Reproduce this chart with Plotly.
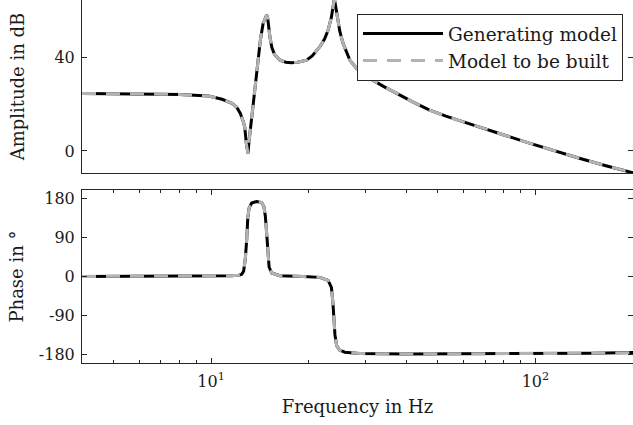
import math
import plotly.graph_objects as go

# ---------------- data ----------------
freq_amp = [4.0, 5.0, 6.0, 7.0, 8.0, 9.0, 9.84, 10.81, 11.6, 12.0, 12.31, 12.55, 12.70,
            12.85, 12.95, 13.0, 13.07, 13.21, 13.5, 13.82, 13.98, 14.2, 14.48, 14.7,
            14.84, 14.95, 15.05, 15.19, 15.4, 15.7, 16.3, 17.0, 17.7, 18.5, 19.7, 20.5,
            21.65, 22.4, 22.96, 23.5, 23.78, 24.0, 24.2, 24.5, 24.94, 25.53, 26.78,
            28.08, 30.85, 34.0, 37.3, 42.0, 47.2, 53.0, 59.7, 67.3, 80.0, 95.8, 115.0,
            136.6, 165.0, 194.6, 200.0]
amp_generating_db = [24.5, 24.5, 24.4, 24.2, 24.0, 23.7, 23.4, 22.0, 20.3, 18.6, 16.0, 12.8,
                     10.3, 3.0, 0.0, -1.0, 3.0, 8.9, 21.7, 34.5, 40.0, 47.5, 54.5, 57.0,
                     57.9, 56.5, 53.0, 48.5, 44.0, 41.0, 38.7, 37.8, 37.6, 37.8, 38.7, 40.5,
                     44.4, 47.8, 51.5, 57.0, 61.4, 64.8, 62.0, 57.5, 51.0, 45.8, 38.7,
                     35.2, 30.9, 27.5, 24.5, 20.8, 17.4, 14.8, 12.5, 10.3, 6.8, 3.3, -0.1,
                     -3.1, -6.3, -8.8, -9.3]
amp_model_db = list(amp_generating_db)

freq_phase = [4.0, 8.0, 10.0, 11.5, 12.2, 12.43, 12.6, 12.75, 12.88, 12.98, 13.1, 13.34,
              13.82, 14.32, 14.55, 14.7, 14.84, 14.96, 15.1, 15.38, 16.31, 19.23, 21.65,
              22.96, 23.5, 23.75, 23.9, 24.1, 24.4, 24.9, 25.84, 28.74, 40.0, 67.0,
              100.0, 150.0, 200.0]
phase_generating_deg = [0, 0.5, 1, 2, 3, 5, 12, 40, 85, 135, 158, 170,
                        173.5, 171, 162, 140, 100, 55, 22, 8, 2, 0, -2,
                        -9, -25, -60, -95, -135, -160, -170, -175, -178, -179, -179,
                        -178.5, -177.5, -176]
phase_model_deg = list(phase_generating_deg)

x_ticks = [10, 100]
x_ticktext = ["10<sup>1</sup>", "10<sup>2</sup>"]
x_minor = [5, 6, 7, 8, 9, 20, 30, 40, 50, 60, 70, 80, 90, 200]
amp_ticks = [0, 40]
phase_ticks = [-180, -90, 0, 90, 180]
phase_ticktext = ["-180", "-90", "0", "90", "180"]

series_names = ["Generating model", "Model to be built"]

# ---------------- figure ----------------
FONT = "DejaVu Serif"
AX = "#262626"
TXT = "#1a1a1a"
BLACK = "#000000"
GRAY = "#b3b3b3"
FS = 18      # axis titles
FL = 18.5    # legend
FT = 16      # tick labels

fig = go.Figure()
fig.add_trace(go.Scatter(x=freq_amp, y=amp_generating_db, name=series_names[0], mode="lines",
                         line=dict(color=BLACK, width=3), xaxis="x", yaxis="y"))
fig.add_trace(go.Scatter(x=freq_amp, y=amp_model_db, name=series_names[1], mode="lines",
                         line=dict(color=GRAY, width=3, dash="14px,10px"), xaxis="x", yaxis="y"))
fig.add_trace(go.Scatter(x=freq_phase, y=phase_generating_deg, name=series_names[0], mode="lines",
                         line=dict(color=BLACK, width=3), xaxis="x2", yaxis="y2", showlegend=False))
fig.add_trace(go.Scatter(x=freq_phase, y=phase_model_deg, name=series_names[1], mode="lines",
                         line=dict(color=GRAY, width=3, dash="14px,10px"), xaxis="x2", yaxis="y2",
                         showlegend=False))

H_PLOT = 363.0
top_dom = [(H_PLOT - 173) / H_PLOT, 1.0]
bot_dom = [0.0, 173 / H_PLOT]
xr = [math.log10(4), math.log10(200)]

common = dict(showline=True, linecolor=AX, linewidth=1, showgrid=False, zeroline=False,
              tickcolor=AX, tickfont=dict(family=FONT, size=FT, color=TXT))

fig.update_layout(
    width=633, height=425,
    margin=dict(l=82, r=0, t=0, b=62),
    paper_bgcolor="white", plot_bgcolor="white",
    font=dict(family=FONT, size=FS, color=TXT),
    xaxis=dict(domain=[0, 1], anchor="y", type="log", range=xr, showticklabels=False,
               ticks="", mirror=True, **common),
    yaxis=dict(domain=top_dom, anchor="x", range=[-9.4, 64.3], tickvals=amp_ticks,
               ticks="inside", ticklen=5, mirror="ticks", automargin=False, ticklabelstandoff=3,
               title=dict(text="Amplitude in dB", standoff=25, font=dict(family=FONT, size=FS, color=TXT)),
               **common),
    xaxis2=dict(domain=[0, 1], anchor="y2", type="log", range=xr, tickvals=x_ticks,
                ticktext=x_ticktext, ticks="inside", ticklen=5, mirror="ticks", automargin=False,
                ticklabelstandoff=4,
                minor=dict(tickvals=x_minor, ticks="inside", ticklen=3, tickcolor=AX),
                title=dict(text="Frequency in Hz", standoff=10, font=dict(family=FONT, size=FS, color=TXT)),
                **common),
    yaxis2=dict(domain=bot_dom, anchor="x2", range=[-200, 200], tickvals=phase_ticks,
                ticktext=phase_ticktext, ticks="inside", ticklen=5, mirror="ticks", automargin=False,
                ticklabelstandoff=3,
                title=dict(text="Phase in °", standoff=10, font=dict(family=FONT, size=FS, color=TXT)),
                **common),
    legend=dict(x=(357 - 82) / 551, y=1 - 14 / H_PLOT, xanchor="left", yanchor="top",
                bgcolor="white", bordercolor=AX, borderwidth=1, itemwidth=80,
                font=dict(family=FONT, size=FL, color=TXT), tracegroupgap=0),
    showlegend=True,
)

fig.write_html("out.html")
